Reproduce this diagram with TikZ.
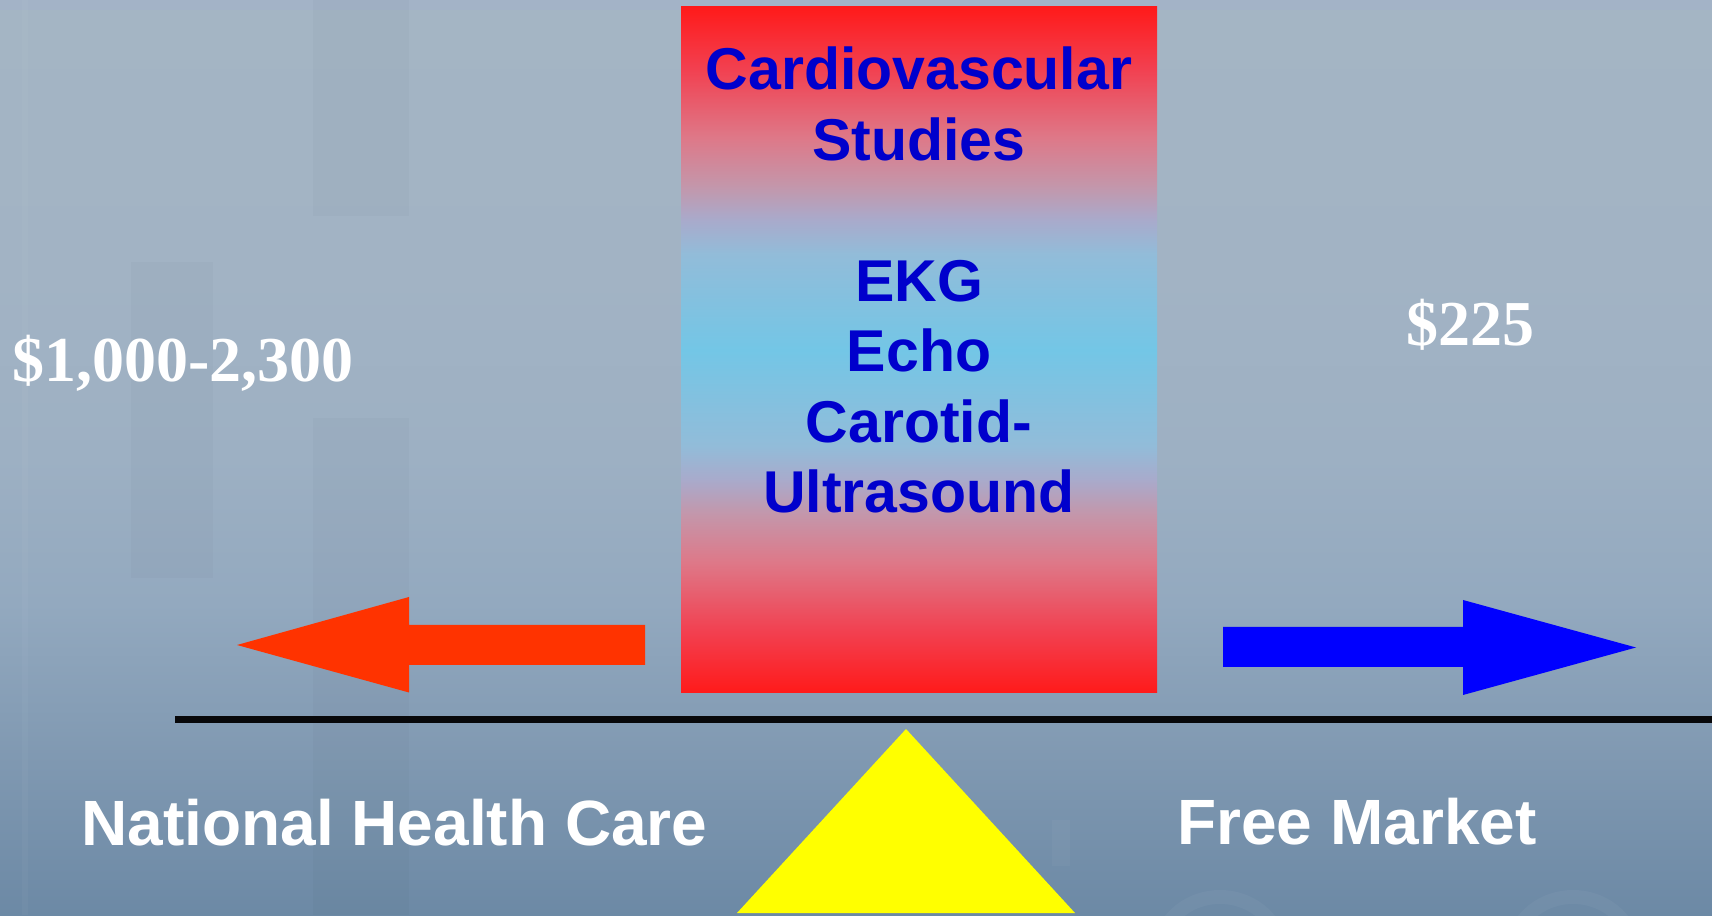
\documentclass[tikz,border=0pt]{standalone}
\usepackage{fontspec}
\setmainfont{Liberation Sans}
\newfontfamily\pricefont{Liberation Serif}

% palette
\definecolor{bgA}{RGB}{108,137,165}
\definecolor{bgB}{RGB}{127,152,177}
\definecolor{bgC}{RGB}{147,169,191}
\definecolor{bgD}{RGB}{157,176,195}
\definecolor{bgE}{RGB}{162,179,196}
\definecolor{bgF}{RGB}{164,181,196}
\definecolor{bxR}{RGB}{255,26,26}
\definecolor{bxR2}{RGB}{242,64,80}
\definecolor{bxP}{RGB}{222,120,136}
\definecolor{bxM}{RGB}{196,150,170}
\definecolor{bxL}{RGB}{169,170,203}
\definecolor{bxS}{RGB}{146,188,217}
\definecolor{bxC}{RGB}{115,198,230}
\definecolor{boxblue}{RGB}{0,0,204}
\definecolor{leftred}{RGB}{255,51,0}
\definecolor{rightblue}{RGB}{0,0,255}
\definecolor{fulcrum}{RGB}{255,255,0}
\definecolor{beam}{RGB}{8,8,10}

% backdrop: light at the top, darker towards the floor
\pgfdeclareverticalshading{skyfade}{100bp}{%
  color(0bp)=(bgA); color(25bp)=(bgA); color(33.25bp)=(bgB);
  color(42bp)=(bgC); color(50bp)=(bgD); color(60bp)=(bgE);
  color(75bp)=(bgF); color(100bp)=(bgF)}

% study box: red at both ends, sky blue in the middle
\pgfdeclareverticalshading{studyfade}{100bp}{%
  color(0bp)=(bxR); color(25bp)=(bxR); color(29.5bp)=(bxR2);
  color(34.5bp)=(bxP); color(38bp)=(bxM); color(40.5bp)=(bxL);
  color(43bp)=(bxS); color(50bp)=(bxC); color(57bp)=(bxS);
  color(59.5bp)=(bxL); color(62bp)=(bxM); color(65.5bp)=(bxP);
  color(70.5bp)=(bxR2); color(75bp)=(bxR); color(100bp)=(bxR)}

\tikzset{
  sidelabel/.style={font=\bfseries\fontsize{64}{70}\selectfont, text=white,
    inner sep=0pt, anchor=base},
  pricelabel/.style={font=\pricefont\bfseries\fontsize{64}{70}\selectfont,
    text=white, inner sep=0pt, anchor=base},
  studyline/.style={font=\bfseries\fontsize{59}{70}\selectfont, text=boxblue,
    inner sep=0pt, anchor=base},
  ghost/.style={fill=black, opacity=0.018},
  glow/.style={fill=white, opacity=0.03},
}

\begin{document}
\begin{tikzpicture}[x=1pt,y=1pt]
  \useasboundingbox (0,0) rectangle (1712,915);

  % backdrop
  \shade[shading=skyfade] (0,0) rectangle (1712,915);
  \fill[blue!40!white, opacity=0.06] (0,905) rectangle (1712,915);

  % faint pillars of the washed-out photo behind
  \fill[ghost] (313,699) rectangle (409,915);
  \fill[ghost] (313,0) rectangle (409,497);
  \fill[ghost] (131,337) rectangle (213,653);
  \fill[glow] (22,0) rectangle (28,915);
  \fill[glow] (1052,49) rectangle (1070,95);
  \begin{scope}
    \clip (0,0) rectangle (1712,915);
    \draw[white, opacity=0.035, line width=14pt] (1220,-40) ellipse (62 and 58);
    \draw[white, opacity=0.035, line width=14pt] (1573,-40) ellipse (62 and 58);
  \end{scope}

  % study box
  \shade[shading=studyfade] (681,222) rectangle (1157,908);

  \node[studyline] (t1) at (919,825)   {Cardiovascular};
  \node[studyline] (t2) at (919,754.5) {Studies};
  \node[studyline] (s1) at (919,613)   {EKG};
  \node[studyline] (s2) at (919,543.5) {Echo};
  \node[studyline] (s3) at (919,472.5) {Carotid-};
  \node[studyline] (s4) at (919,402)   {Ultrasound};

  % arrows on either side
  \fill[leftred] (237,270) -- (409,318) -- (409,290) -- (645,290)
    -- (645,250) -- (409,250) -- (409,222.5) -- cycle;
  \fill[rightblue] (1223,288) -- (1463,288) -- (1463,315) -- (1636,267.5)
    -- (1463,220) -- (1463,248) -- (1223,248) -- cycle;

  % balance beam and fulcrum
  \coordinate (beamL) at (175,195.5);
  \coordinate (beamR) at (1712,195.5);
  \draw[beam, line width=7.5pt] (beamL) -- (beamR);
  \fill[fulcrum] (906,186) -- (1075,2) -- (737,2) -- cycle;

  % prices
  \node[pricelabel] (pl) at (183,533) {\$1,000-2,300};
  \node[pricelabel] (pr) at (1470.5,569) {\$225};

  % sides of the scale
  \node[sidelabel] (nhc) at (394.5,69) {National Health Care};
  \node[sidelabel] (fm)  at (1357,70)  {Free Market};
\end{tikzpicture}
\end{document}
